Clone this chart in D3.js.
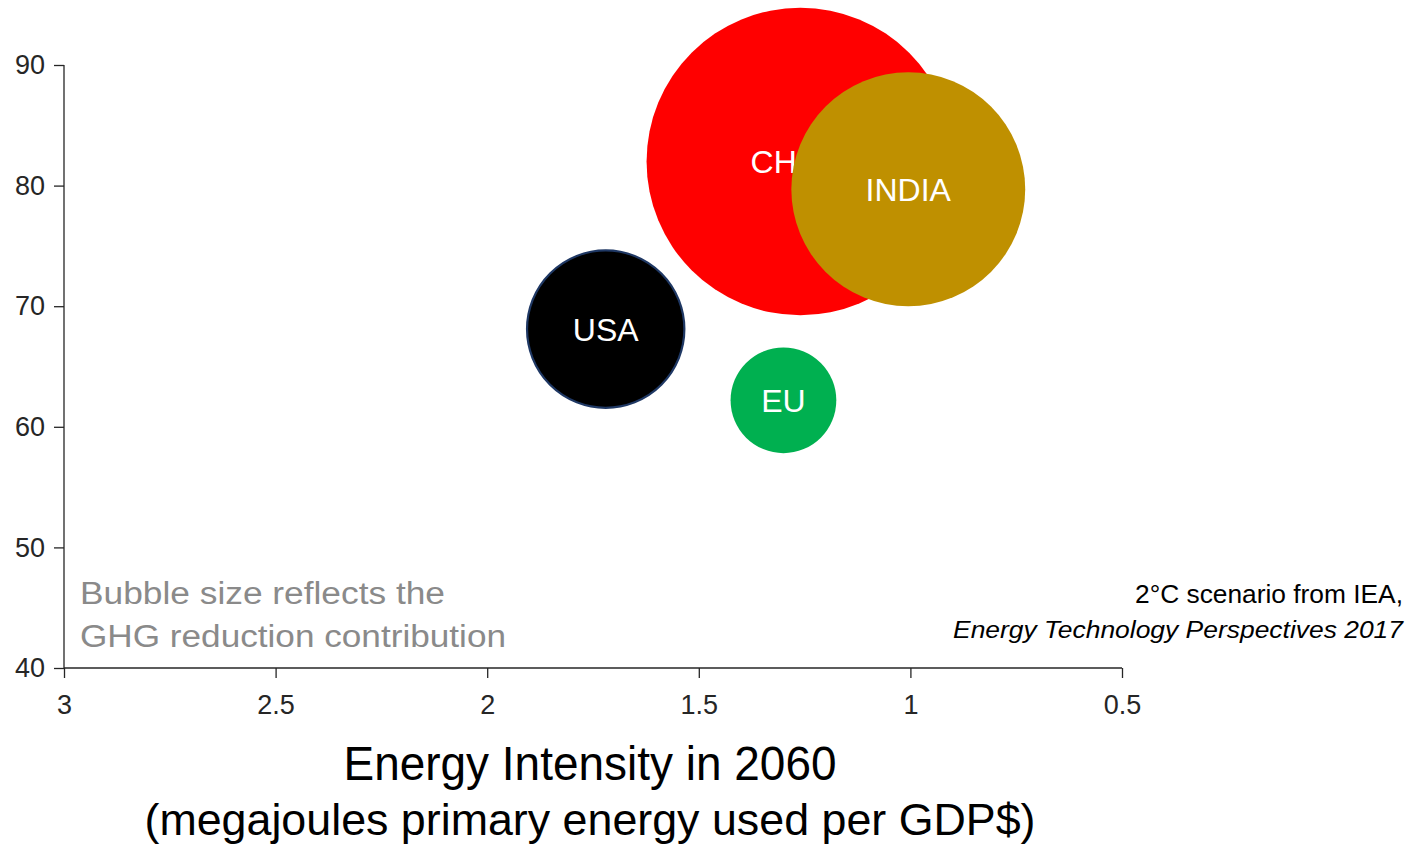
<!DOCTYPE html>
<html>
<head>
<meta charset="utf-8">
<script src="https://cdn.jsdelivr.net/npm/d3@7"></script>
<style>
  html, body { margin: 0; padding: 0; background: #fff; }
  svg { display: block; }
</style>
</head>
<body>
<svg id="chart" width="1420" height="845"></svg>
<script>
// ---- data ----
const countries   = ["CHINA", "INDIA", "USA", "EU"];
const intensity   = [1.26, 1.005, 1.72, 1.30];  // MJ per GDP$ in 2060 (x)
const yValues     = [82.0, 79.7, 68.1, 62.2];   // y-axis value
const ghgShare    = [23.7, 13.7, 6.2, 2.8];     // bubble size (GHG reduction contribution)
const colors      = ["#FF0000", "#BF9000", "#000000", "#00B050"];
const strokes     = ["none", "none", "#1F3864", "none"];
const xTicks      = [3, 2.5, 2, 1.5, 1, 0.5];
const yTicks      = [40, 50, 60, 70, 80, 90];

(function () {
const svg = d3.select("#chart");
const mLeft = 64, mRight = 1122, mTop = 65, mBottom = 668;

const x = d3.scaleLinear().domain([3, 0.5]).range([mLeft, mRight]);
const y = d3.scaleLinear().domain([40, 90]).range([mBottom, mTop]);
const r = d3.scaleSqrt().domain([0, d3.max(ghgShare)]).range([0, 153.8]);

const axisColor = "#262626";
const tickFont = "'Liberation Sans', Arial, sans-serif";

const data = countries.map((c, i) => ({
  name: c, x: intensity[i], y: yValues[i], s: ghgShare[i], fill: colors[i], stroke: strokes[i]
}));

// bubbles with labels, in order (India covers the China label)
const g = svg.append("g");
const nodes = g.selectAll("g.bubble").data(data).join("g").attr("class", "bubble");
nodes.append("circle")
  .attr("cx", d => x(d.x))
  .attr("cy", d => y(d.y))
  .attr("r", d => r(d.s))
  .attr("fill", d => d.fill)
  .attr("stroke", d => d.stroke)
  .attr("stroke-width", d => d.stroke === "none" ? 0 : 2.2);
nodes.append("text")
  .attr("x", d => x(d.x)).attr("y", d => y(d.y))
  .attr("dy", "0.36em")
  .attr("text-anchor", "middle")
  .attr("fill", "#fff")
  .style("font-family", tickFont)
  .style("font-size", "32px")
  .text(d => d.name);

// y axis
const yAxis = svg.append("g")
  .attr("transform", `translate(${mLeft},0)`)
  .call(d3.axisLeft(y).tickValues(yTicks).tickSize(10).tickPadding(9).tickFormat(d3.format("d")));
yAxis.selectAll("path, line").attr("stroke", axisColor).attr("stroke-width", 1.3);
yAxis.selectAll("text").attr("fill", axisColor)
  .style("font-family", tickFont).style("font-size", "27px");
yAxis.select(".domain").attr("d", `M0,${mTop}V${mBottom}`);

// x axis
const xAxis = svg.append("g")
  .attr("transform", `translate(0,${mBottom})`)
  .call(d3.axisBottom(x).tickValues(xTicks).tickSize(10).tickPadding(17).tickFormat(d => String(d)));
xAxis.selectAll("path, line").attr("stroke", axisColor).attr("stroke-width", 1.3);
xAxis.selectAll("text").attr("fill", axisColor)
  .style("font-family", tickFont).style("font-size", "27px");
xAxis.select(".domain").attr("d", `M${mLeft},0H${mRight}`);

// bubble size note
const note = svg.append("g").attr("fill", "#8a8a8a")
  .style("font-family", "'Liberation Sans', Arial, sans-serif").style("font-size", "31px");
note.append("text").attr("x", 80).attr("y", 604)
  .attr("textLength", 365).attr("lengthAdjust", "spacingAndGlyphs")
  .text("Bubble size reflects the");
note.append("text").attr("x", 80).attr("y", 647)
  .attr("textLength", 426).attr("lengthAdjust", "spacingAndGlyphs")
  .text("GHG reduction contribution");

// source
const src = svg.append("g").attr("fill", "#000").attr("text-anchor", "end")
  .style("font-family", "'Liberation Sans Narrow', 'Liberation Sans', sans-serif").style("font-size", "26px");
src.append("text").attr("x", 1403).attr("y", 603)
  .attr("textLength", 268).attr("lengthAdjust", "spacingAndGlyphs")
  .text("2°C scenario from IEA,");
src.append("text").attr("x", 1403).attr("y", 638)
  .style("font-family", "'Liberation Sans', Arial, sans-serif")
  .style("font-style", "italic").style("font-size", "24px")
  .attr("textLength", 450).attr("lengthAdjust", "spacingAndGlyphs")
  .text("Energy Technology Perspectives 2017");

// axis title
const cx = 590;
svg.append("text").attr("x", cx).attr("y", 780)
  .attr("text-anchor", "middle").attr("fill", "#000")
  .style("font-family", "'Liberation Sans Narrow', 'Liberation Sans', sans-serif")
  .style("font-size", "49px")
  .attr("textLength", 493).attr("lengthAdjust", "spacingAndGlyphs")
  .text("Energy Intensity in 2060");
svg.append("text").attr("x", cx).attr("y", 835)
  .attr("text-anchor", "middle").attr("fill", "#000")
  .style("font-family", "'Liberation Sans Narrow', 'Liberation Sans', sans-serif")
  .style("font-size", "45px")
  .attr("textLength", 891).attr("lengthAdjust", "spacingAndGlyphs")
  .text("(megajoules primary energy used per GDP$)");
})();
</script>
</body>
</html>
